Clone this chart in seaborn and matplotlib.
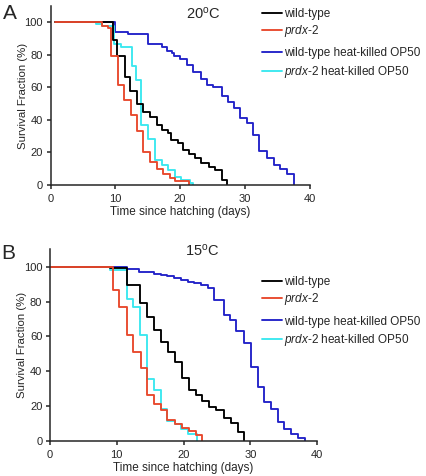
import pandas as pd
import seaborn as sns
import matplotlib.pyplot as plt
from matplotlib.lines import Line2D

# Survival curves (days since hatching, % alive)
groups = ["wild-type", "prdx-2", "wild-type heat-killed OP50", "prdx-2 heat-killed OP50"]
colors = ["black", "#e8482c", "#2222c8", "#3ae8f0"]

# panel A, 20 C
a_wt_days = [0.7, 9.6, 10.3, 11.5, 12.3, 13.3, 14.3, 15.3, 16.4, 17.2, 18.2, 18.6, 19.6,
             20.4, 21.3, 22.3, 23.3, 24.4, 25.4, 26.4, 27.3]
a_wt_surv = [100, 89, 79, 66.5, 57.5, 50, 45, 42, 37, 34, 32, 27.7, 26,
             21.5, 19, 16.5, 13.3, 11.3, 9, 3, 0]
a_prdx_days = [0.7, 8.0, 8.8, 9.3, 10.4, 11.4, 12.4, 13.4, 14.3, 15.3, 16.4, 17.4, 18.4, 19.2, 21.4]
a_prdx_surv = [100, 98, 96.3, 79, 61.5, 52, 43, 33, 20.5, 14.3, 10, 6.6, 4.5, 2.3, 0]
a_wthk_days = [0.7, 9.9, 12.0, 15.1, 17.2, 17.9, 18.7, 19.1, 20.0, 21.0, 22.0, 23.2, 24.1,
               25.1, 26.4, 27.4, 28.3, 29.3, 30.4, 31.2, 32.2, 33.4, 34.5, 35.5, 36.5, 37.6]
a_wthk_surv = [100, 94, 92.5, 86.5, 84.5, 82.5, 81, 79, 77.5, 74, 69.5, 65, 61.5,
               60, 55, 51, 47.5, 41, 38, 30.5, 21, 16.5, 12.5, 10, 6.5, 0]
a_prdxhk_days = [0.7, 7.0, 8.0, 9.8, 10.8, 12.5, 13.2, 14.0, 15.1, 16.1, 17.2, 18.2, 19.2, 20.2, 21.5, 22.0]
a_prdxhk_surv = [100, 99, 97.5, 86.5, 85, 73, 64.5, 37, 28, 15.5, 12.3, 9.2, 5.1, 3.1, 1, 0]

# panel B, 15 C
b_wt_days = [0, 9.0, 11.5, 13.5, 14.5, 15.6, 16.7, 17.7, 18.7, 19.8, 20.8, 21.8, 22.8,
             23.8, 24.8, 26.1, 27.1, 28.1, 29.1]
b_wt_surv = [100, 99, 89.5, 79, 71, 63.5, 56.7, 51, 45, 36, 29.3, 26.3, 23,
             19.5, 17.6, 13, 10, 5.2, 0]
b_prdx_days = [0, 9.4, 10.4, 11.5, 12.5, 13.6, 14.5, 15.6, 16.6, 17.6, 18.8, 19.8, 20.8, 21.8, 22.8]
b_prdx_surv = [100, 86.5, 77, 60.5, 51, 42, 26.5, 21, 17.5, 12, 9.4, 7.1, 5.5, 3, 0]
b_wthk_days = [0, 11.5, 13.4, 15.6, 16.6, 17.6, 18.6, 19.6, 20.6, 21.5, 22.6, 23.6, 24.5,
               26.0, 26.9, 27.9, 29.0, 30.1, 31.1, 32.1, 33.1, 34.1, 35.1, 36.1, 37.1, 38.2]
b_wthk_surv = [100, 98.5, 97, 96, 95.5, 94.5, 93.7, 92.5, 91.4, 90.4, 89.5, 87.5, 81,
               72.5, 69.5, 63, 56, 42.5, 31, 22, 18, 11, 6.5, 4, 1.5, 0]
b_prdxhk_days = [0, 9.0, 11.5, 12.5, 13.5, 14.5, 15.6, 16.6, 17.6, 18.7, 19.7, 20.7, 22.0]
b_prdxhk_surv = [100, 98, 81.5, 77, 60.5, 35.5, 29, 18, 11.5, 9.4, 6.5, 3.8, 0]

x_ticks = [0, 10, 20, 30, 40]
y_ticks = [0, 20, 40, 60, 80, 100]

sns.set_style("ticks")
plt.rcParams['font.family'] = ['Liberation Sans', 'DejaVu Sans']
plt.rcParams['mathtext.fontset'] = 'custom'
plt.rcParams['mathtext.rm'] = 'Liberation Sans'
plt.rcParams['mathtext.it'] = 'Liberation Sans:italic'


def make_frame(days, survs):
    rows = []
    for g, d, s in zip(groups, days, survs):
        for t, v in zip(d, s):
            rows.append({"group": g, "day": t, "surv": v})
    return pd.DataFrame(rows)


def draw_panel(ax, df):
    # heat-killed first so the live-food curves sit on top
    for g in [groups[2], groups[3], groups[0], groups[1]]:
        sub = df[df["group"] == g]
        sns.lineplot(data=sub, x="day", y="surv", color=colors[groups.index(g)],
                     drawstyle="steps-post", estimator=None, sort=False,
                     lw=1.35, ax=ax, legend=False)
    ax.set_xlim(0, 40)
    ax.set_ylim(0, 110)
    ax.set_xticks(x_ticks)
    ax.set_yticks(y_ticks)
    ax.tick_params(labelsize=8, length=3, width=1.1)
    ax.tick_params(axis="x", pad=3.5)
    ax.tick_params(axis="y", pad=2.5)
    ax.set_xlabel("Time since hatching (days)", fontsize=8.5, labelpad=1.5)
    ax.set_ylabel("Survival Fraction (%)", fontsize=8.2, labelpad=-2.5)
    for sp in ["left", "bottom"]:
        ax.spines[sp].set_linewidth(1.1)
    sns.despine(ax=ax)


def draw_legend(fig, top1, top2):
    labels = ["wild-type", r"$\mathit{prdx}$-$\mathit{2}$",
              "wild-type heat-killed OP50", r"$\mathit{prdx}$-$\mathit{2}$ heat-killed OP50"]
    handles = [Line2D([], [], color=c, lw=1.35) for c in colors]
    kw = dict(frameon=False, fontsize=8.5, handlelength=1.7, handletextpad=0.15,
              borderpad=0, borderaxespad=0, loc="upper left")
    fig.legend(handles[:2], labels[:2], bbox_to_anchor=(262 / 426, 1 - top1 / 476),
               labelspacing=0.25, **kw)
    fig.legend(handles[2:], labels[2:], bbox_to_anchor=(262 / 426, 1 - top2 / 476),
               labelspacing=0.4, **kw)


fig = plt.figure(figsize=(4.26, 4.76), dpi=100)
ax_a = fig.add_axes([50.7 / 426, 1 - 185 / 476, 258.8 / 426, 179 / 476])
ax_b = fig.add_axes([50 / 426, 1 - 440.7 / 476, 267 / 426, 191.4 / 476])

df_a = make_frame([a_wt_days, a_prdx_days, a_wthk_days, a_prdxhk_days],
                  [a_wt_surv, a_prdx_surv, a_wthk_surv, a_prdxhk_surv])
df_b = make_frame([b_wt_days, b_prdx_days, b_wthk_days, b_prdxhk_days],
                  [b_wt_surv, b_prdx_surv, b_wthk_surv, b_prdxhk_surv])

draw_panel(ax_a, df_a)
draw_panel(ax_b, df_b)
draw_legend(fig, 8.5, 47)
draw_legend(fig, 276, 315.5)

fig.text(203 / 426, 1 - 14 / 476, r"20$^{\mathrm{o}}$C", fontsize=10.5, ha="center", va="center")
fig.text(202 / 426, 1 - 251 / 476, r"15$^{\mathrm{o}}$C", fontsize=10.5, ha="center", va="center")
fig.text(3 / 426, 1 - 4 / 476, "A", fontsize=15, va="top", ha="left")
fig.text(1 / 426, 1 - 244 / 476, "B", fontsize=15, va="top", ha="left")

fig.savefig("out.png", dpi=100)
